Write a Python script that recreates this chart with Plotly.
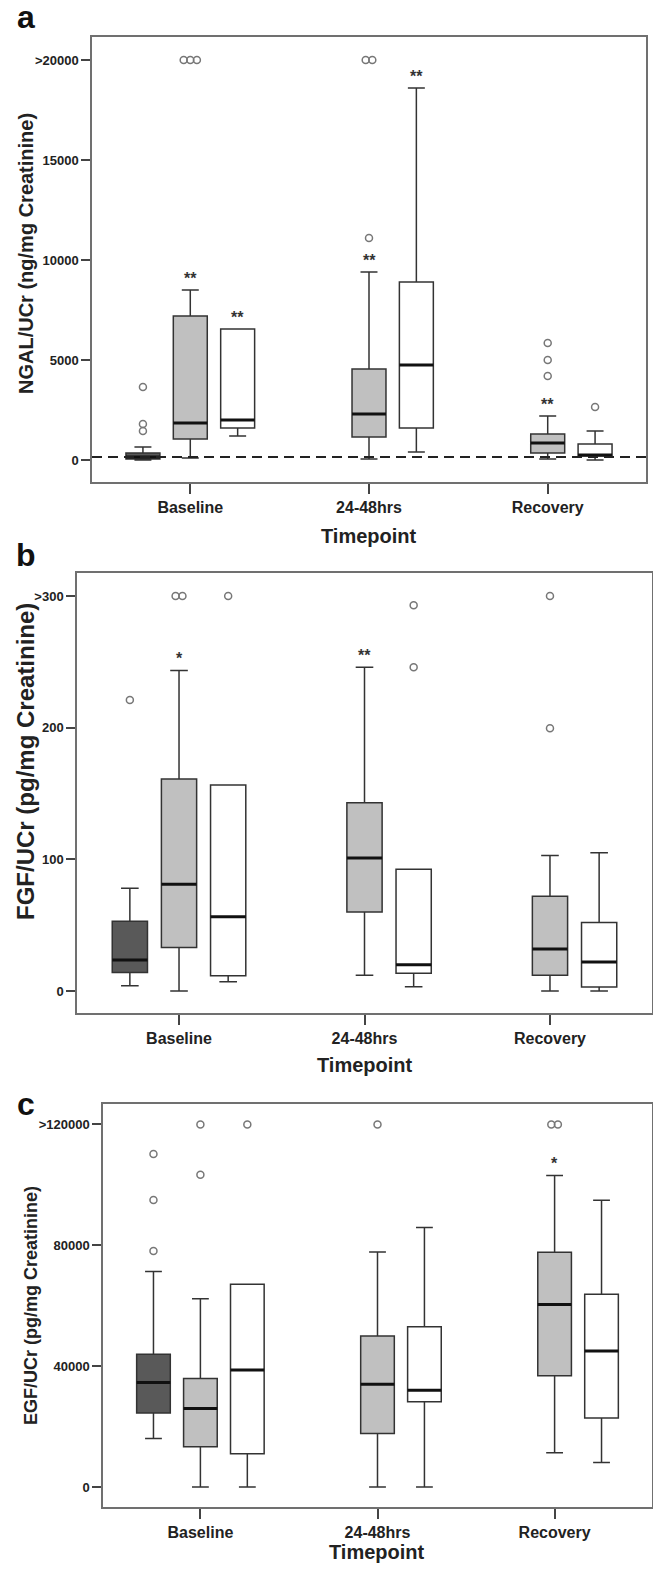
import plotly.graph_objects as go

W, H = 653, 1583

TIMEPOINTS = ["Baseline", "24-48hrs", "Recovery"]
GROUP_FILL = ["#595959", "#c0c0c0", "#ffffff"]
GROUP_OFFSET = [-0.265, 0.0, 0.265]
BOX_WIDTH = 0.19

# ---- Panel a: NGAL/UCr (rows = groups dark/light/white, cols = timepoints)
NGAL_Q1 = [[50, None, None], [1050, 1150, 350], [1600, 1600, 200]]
NGAL_MED = [[150, None, None], [1850, 2300, 850], [2000, 4750, 250]]
NGAL_Q3 = [[350, None, None], [7200, 4550, 1300], [6550, 8900, 800]]
NGAL_LO = [[0, None, None], [100, 50, 50], [1200, 400, 0]]
NGAL_HI = [[650, None, None], [8500, 9400, 2200], [6550, 18600, 1450]]
NGAL_OUT = [[[3650, 1800, 1450], [], []],
            [[20000, 20000, 20000], [11100, 20000, 20000], [5850, 5000, 4200]],
            [[], [], [2650]]]
NGAL_STARS = [["", "", ""], ["**", "**", "**"], ["**", "**", ""]]
NGAL_TICKVALS = [0, 5000, 10000, 15000, 20000]
NGAL_TICKTEXT = ["0", "5000", "10000", "15000", ">20000"]
NGAL_REF = 150

# ---- Panel b: FGF/UCr
FGF_Q1 = [[14, None, None], [33, 60, 12], [11.5, 13.5, 3]]
FGF_MED = [[23.5, None, None], [81, 101, 32], [56.5, 20, 22]]
FGF_Q3 = [[53, None, None], [161, 143, 72], [156.5, 92.5, 52]]
FGF_LO = [[4, None, None], [0, 12, 0], [7, 3.3, 0]]
FGF_HI = [[78, None, None], [243.5, 246, 103], [156.5, 92.5, 105]]
FGF_OUT = [[[221], [], []],
           [[300, 300], [], [300, 199.5]],
           [[300], [293, 246], []]]
FGF_STARS = [["", "", ""], ["*", "**", ""], ["", "", ""]]
FGF_TICKVALS = [0, 100, 200, 300]
FGF_TICKTEXT = ["0", "100", "200", ">300"]

# ---- Panel c: EGF/UCr
EGF_Q1 = [[24500, None, None], [13300, 17700, 36800], [11000, 28200, 22800]]
EGF_MED = [[34600, None, None], [26000, 34000, 60400], [38700, 32000, 45000]]
EGF_Q3 = [[43900, None, None], [35900, 50000, 77700], [67100, 53000, 63800]]
EGF_LO = [[16000, None, None], [0, 0, 11300], [0, 0, 8100]]
EGF_HI = [[71300, None, None], [62300, 77800, 103100], [67100, 85900, 94900]]
EGF_OUT = [[[110200, 95000, 78100], [], []],
           [[120000, 103300], [120000], [120000, 120000]],
           [[120000], [], []]]
EGF_STARS = [["", "", ""], ["", "", "*"], ["", "", ""]]
EGF_TICKVALS = [0, 40000, 80000, 120000]
EGF_TICKTEXT = ["0", "40000", "80000", ">120000"]

FONT = "Liberation Sans, Arial, sans-serif"

panels = [
    dict(letter="a", q1=NGAL_Q1, med=NGAL_MED, q3=NGAL_Q3, lo=NGAL_LO, hi=NGAL_HI,
         out=NGAL_OUT, stars=NGAL_STARS, tv=NGAL_TICKVALS, tt=NGAL_TICKTEXT,
         yrange=[-1100, 21150], box=(92, 646, 37, 482), title="NGAL/UCr (ng/mg Creatinine)",
         tsize=20, tx=26, ty=254, letter_y=17, xtitle_y=536, ref=NGAL_REF),
    dict(letter="b", q1=FGF_Q1, med=FGF_MED, q3=FGF_Q3, lo=FGF_LO, hi=FGF_HI,
         out=FGF_OUT, stars=FGF_STARS, tv=FGF_TICKVALS, tt=FGF_TICKTEXT,
         yrange=[-16.7, 317.5], box=(77, 652, 573, 1013), title="FGF/UCr (pg/mg Creatinine)",
         tsize=24, tx=26, ty=762, letter_y=555, xtitle_y=1065, ref=None),
    dict(letter="c", q1=EGF_Q1, med=EGF_MED, q3=EGF_Q3, lo=EGF_LO, hi=EGF_HI,
         out=EGF_OUT, stars=EGF_STARS, tv=EGF_TICKVALS, tt=EGF_TICKTEXT,
         yrange=[-6630, 126750], box=(103, 652, 1104, 1507), title="EGF/UCr (pg/mg Creatinine)",
         tsize=18, tx=31, ty=1306, letter_y=1104, xtitle_y=1552, ref=None),
]

fig = go.Figure()
layout = dict(width=W, height=H, margin=dict(l=0, r=0, t=0, b=0),
              paper_bgcolor="white", plot_bgcolor="white", showlegend=False,
              font=dict(family=FONT, color="#222"))
annotations = []
shapes = []

for i, p in enumerate(panels):
    n = "" if i == 0 else str(i + 1)
    xa, ya = "x" + n, "y" + n
    x0, x1, yt, yb = p["box"]
    layout["xaxis" + n] = dict(
        domain=[x0 / W, x1 / W], range=[0.45, 3.55], anchor=ya,
        tickvals=[1, 2, 3], ticktext=TIMEPOINTS, ticks="outside", ticklen=10,
        tickwidth=1.5, tickcolor="#444", showgrid=False, zeroline=False,
        showline=True, mirror=True, linecolor="#707070", linewidth=1.5,
        tickfont=dict(family=FONT, size=16, weight="bold", color="#222"))
    layout["yaxis" + n] = dict(
        domain=[1 - yb / H, 1 - yt / H], range=p["yrange"], anchor=xa,
        tickvals=p["tv"], ticktext=p["tt"], ticks="outside", ticklen=9,
        tickwidth=1.5, tickcolor="#444", showgrid=False, zeroline=False,
        showline=True, mirror=True, linecolor="#707070", linewidth=1.5,
        tickfont=dict(family=FONT, size=13, weight="bold", color="#222"))

    for g in range(3):
        xs, q1s, meds, q3s, los, his = [], [], [], [], [], []
        for t in range(3):
            if p["med"][g][t] is None:
                continue
            xs.append(t + 1 + GROUP_OFFSET[g])
            q1s.append(p["q1"][g][t]); meds.append(p["med"][g][t]); q3s.append(p["q3"][g][t])
            los.append(p["lo"][g][t]); his.append(p["hi"][g][t])
        fig.add_trace(go.Box(
            x=xs, q1=q1s, median=meds, q3=q3s, lowerfence=los, upperfence=his,
            width=BOX_WIDTH, whiskerwidth=0.5, fillcolor=GROUP_FILL[g],
            line=dict(color="#333333", width=1.5), boxpoints=False,
            xaxis=xa, yaxis=ya, hoverinfo="skip"))
        # thick medians
        mx, my = [], []
        for xv, mv in zip(xs, meds):
            mx += [xv - BOX_WIDTH / 2, xv + BOX_WIDTH / 2, None]
            my += [mv, mv, None]
        fig.add_trace(go.Scatter(x=mx, y=my, mode="lines", line=dict(color="#111", width=3),
                                 xaxis=xa, yaxis=ya, hoverinfo="skip"))
        # outliers
        ox, oy = [], []
        for t in range(3):
            vals = p["out"][g][t]
            for v in sorted(set(vals)):
                k = vals.count(v)
                for j in range(k):
                    ox.append(t + 1 + GROUP_OFFSET[g] + (j - (k - 1) / 2) * 0.037)
                    oy.append(v)
        if ox:
            fig.add_trace(go.Scatter(x=ox, y=oy, mode="markers",
                                     marker=dict(symbol="circle-open", size=7, color="#777",
                                                 line=dict(width=1.5, color="#777")),
                                     xaxis=xa, yaxis=ya, hoverinfo="skip"))
        # significance stars
        for t in range(3):
            s = p["stars"][g][t]
            if s:
                annotations.append(dict(x=t + 1 + GROUP_OFFSET[g], y=p["hi"][g][t], xref=xa, yref=ya,
                                        text=s, showarrow=False, xanchor="center", yanchor="middle", yshift=12,
                                        font=dict(family=FONT, size=16, weight="bold", color="#333")))

    if p["ref"] is not None:
        shapes.append(dict(type="line", xref=xa + " domain", yref=ya, x0=0, x1=1,
                           y0=p["ref"], y1=p["ref"],
                           line=dict(color="#222", width=2.2, dash="10px,6px")))

    annotations.append(dict(x=p["tx"] / W, y=1 - p["ty"] / H, xref="paper", yref="paper",
                            text=p["title"], textangle=-90, showarrow=False,
                            xanchor="center", yanchor="middle",
                            font=dict(family=FONT, size=p["tsize"], weight="bold", color="#222")))
    annotations.append(dict(x=(x0 + x1) / 2 / W, y=1 - p["xtitle_y"] / H, xref="paper", yref="paper",
                            text="Timepoint", showarrow=False, xanchor="center", yanchor="middle",
                            font=dict(family=FONT, size=20, weight="bold", color="#222")))
    annotations.append(dict(x=26 / W, y=1 - p["letter_y"] / H, xref="paper", yref="paper",
                            text=p["letter"], showarrow=False, xanchor="center", yanchor="middle",
                            font=dict(family=FONT, size=32, weight="bold", color="#111")))

layout["annotations"] = annotations
layout["shapes"] = shapes
fig.update_layout(**layout)
fig.write_html("out.html", config={"displayModeBar": False},
               post_script="document.body.style.margin='0px';document.body.style.overflow='hidden';")
